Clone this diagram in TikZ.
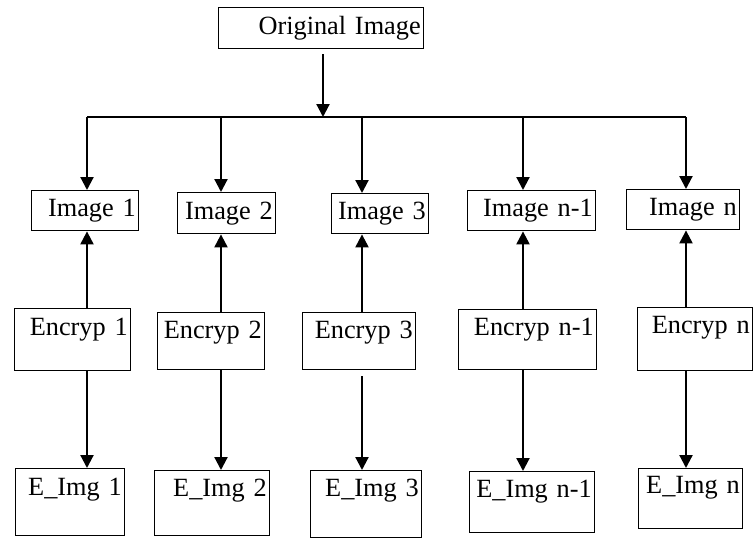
\documentclass[tikz,border=0pt]{standalone}
\usepackage{fontspec}
\setmainfont{Liberation Serif}
\usepackage{tikz}
\usetikzlibrary{arrows.meta}

\begin{document}
\begin{tikzpicture}[x=1pt, y=-1pt,
  box/.style n args={3}{draw, line width=1.4pt, anchor=north west,
    inner xsep=3pt, inner ysep=0pt, align=right,
    font=\fontsize{26.3pt}{30pt}\selectfont,
    text width=#1, text height=#2, text depth=#3},
  arr/.style={line width=2.2pt, -{Triangle[length=13pt,width=13pt]}},
  busline/.style={line width=2pt}]
  \useasboundingbox (0,0) rectangle (753,539);
  % source
  \node[box={199pt}{27pt}{14pt}] (orig) at (218,7) {Original Image};
  % split images
  \node[box={101pt}{26pt}{14pt}] (img1)  at (31,190)  {Image 1};
  \node[box={92pt}{27pt}{14pt}]  (img2)  at (177,192) {Image 2};
  \node[box={91pt}{26pt}{14pt}]  (img3)  at (331,193) {Image 3};
  \node[box={122pt}{26pt}{14pt}] (imgn1) at (467,190) {Image n-1};
  \node[box={107pt}{26pt}{14pt}] (imgn)  at (626,189) {Image n};
  % encryption blocks
  \node[box={110pt}{27pt}{35pt}] (enc1)  at (14,308)  {Encryp 1};
  \node[box={101pt}{26pt}{31pt}] (enc2)  at (157,312) {Encryp 2};
  \node[box={107pt}{26pt}{31pt}] (enc3)  at (302,312) {Encryp 3};
  \node[box={132pt}{26pt}{34pt}] (encn1) at (458,309) {Encryp n-1};
  \node[box={109pt}{26pt}{37pt}] (encn)  at (637,307) {Encryp n};
  % encrypted images
  \node[box={103pt}{27pt}{40pt}] (eimg1)  at (15,468)  {E\_Img 1};
  \node[box={109pt}{26pt}{39pt}] (eimg2)  at (154,470) {E\_Img 2};
  \node[box={105pt}{26pt}{41pt}] (eimg3)  at (310,470) {E\_Img 3};
  \node[box={119pt}{26pt}{35pt}] (eimgn1) at (469,471) {E\_Img n-1};
  \node[box={98pt}{25pt}{35pt}]  (eimgn)  at (638,468) {E\_Img n};
  % distribution bus
  \coordinate (bus) at (323,117);
  \coordinate (b1) at (87,117);
  \coordinate (b2) at (221,117);
  \coordinate (b3) at (362,117);
  \coordinate (bn1) at (523,117);
  \coordinate (bn) at (686,117);
  \draw[arr, shorten <=5pt] (orig.south -| bus) -- (bus);
  \draw[busline] (b1) -- (bn);
  \foreach \k in {1,2,3,n1,n} {
    \draw[arr] (b\k) -- (b\k |- img\k.north);
    \draw[arr] (b\k |- enc\k.north) -- (b\k |- img\k.south);
  }
  \foreach \k/\gap in {1/0,2/0,3/6,n1/0,n/0}
    \draw[arr, shorten <=\gap pt] (b\k |- enc\k.south) -- (b\k |- eimg\k.north);
\end{tikzpicture}
\end{document}
